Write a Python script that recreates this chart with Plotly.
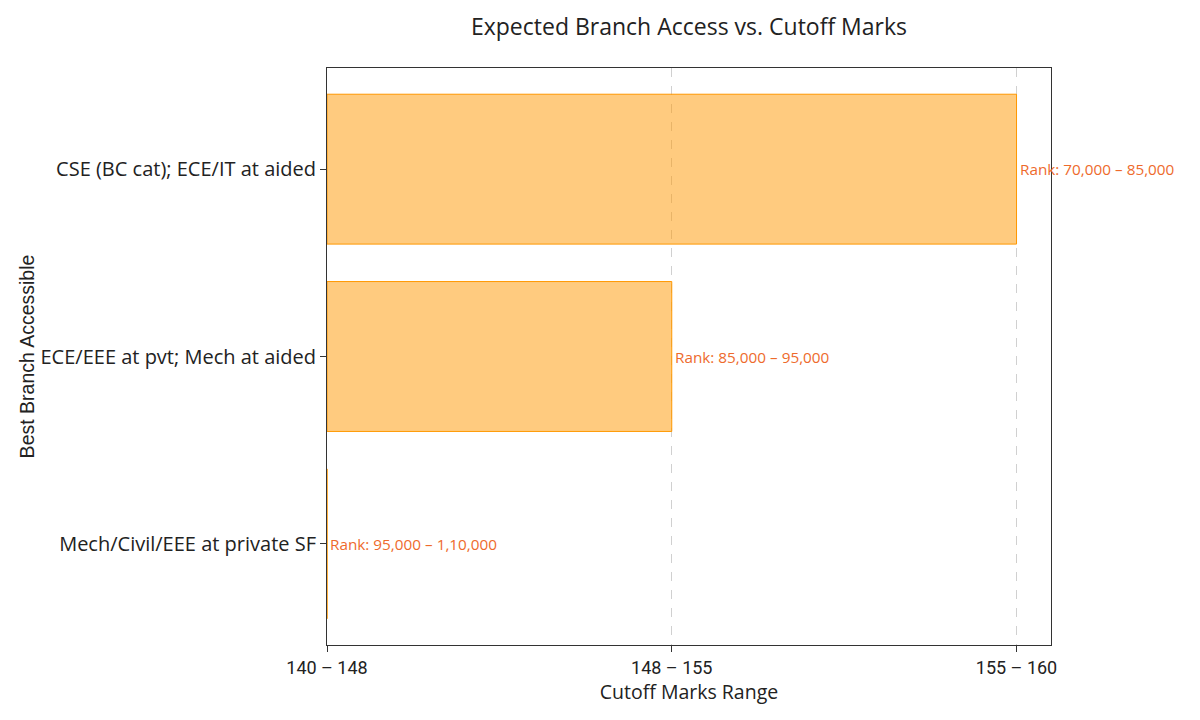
import plotly.graph_objects as go

# Data
marks_ranges = ["140 – 148", "148 – 155", "155 – 160"]
branches = [
    "CSE (BC cat); ECE/IT at aided",
    "ECE/EEE at pvt; Mech at aided",
    "Mech/Civil/EEE at private SF",
]
branch_marks = ["155 – 160", "148 – 155", "140 – 148"]
rank_labels = [
    "Rank: 70,000 – 85,000",
    "Rank: 85,000 – 95,000",
    "Rank: 95,000 – 1,10,000",
]

x_idx = [marks_ranges.index(m) for m in branch_marks]

fig = go.Figure()
fig.add_trace(go.Bar(
    x=x_idx,
    y=branches,
    orientation="h",
    width=0.8,
    marker=dict(color="rgba(255,152,0,0.5)", line=dict(color="#FF9800", width=1)),
    hoverinfo="skip",
    showlegend=False,
))

for xi, b, lab in zip(x_idx, branches, rank_labels):
    fig.add_annotation(
        x=xi, y=b, text=lab, showarrow=False,
        xanchor="left", yanchor="middle", xshift=1,
        font=dict(family="Open Sans, sans-serif", size=15.3, color="#EE6A2C"),
    )

fig.update_layout(
    width=1200, height=720,
    paper_bgcolor="white", plot_bgcolor="white",
    margin=dict(l=327, r=149, t=68, b=75),
    title=dict(
        text="Expected Branch Access vs. Cutoff Marks",
        x=((327 + 1051) / 2) / 1200, xanchor="center",
        y=1 - 27 / 720, yanchor="middle",
        font=dict(family="Open Sans, sans-serif", size=23, color="#222222"),
    ),
    font=dict(family="Open Sans, sans-serif", color="#222222"),
    bargap=0.2,
)

fig.update_xaxes(
    range=[0, 2.1],
    tickvals=list(range(len(marks_ranges))),
    ticktext=marks_ranges,
    ticks="outside", ticklen=6, tickcolor="#333333", tickwidth=1,
    tickfont=dict(size=18, family="Roboto, sans-serif", color="#222222"),
    showgrid=True, gridcolor="#D0D0D0", griddash="dash", gridwidth=1,
    showline=True, linecolor="#333333", linewidth=1, mirror=True,
    zeroline=False,
    title=dict(text="Cutoff Marks Range", font=dict(size=19.5, family="Open Sans, sans-serif", color="#222222"), standoff=3),
)
fig.update_yaxes(
    categoryorder="array", categoryarray=branches,
    range=[2.54, -0.54],
    ticks="outside", ticklen=6, tickcolor="#333333", tickwidth=1,
    tickfont=dict(size=20, family="Open Sans, sans-serif", color="#222222"),
    showgrid=False,
    showline=True, linecolor="#333333", linewidth=1, mirror=True,
    zeroline=False,
    title=dict(text="Best Branch Accessible", font=dict(size=19.5, family="Liberation Sans, Arial, sans-serif", color="#222222"), standoff=0),
)

fig.write_html("out.html")
